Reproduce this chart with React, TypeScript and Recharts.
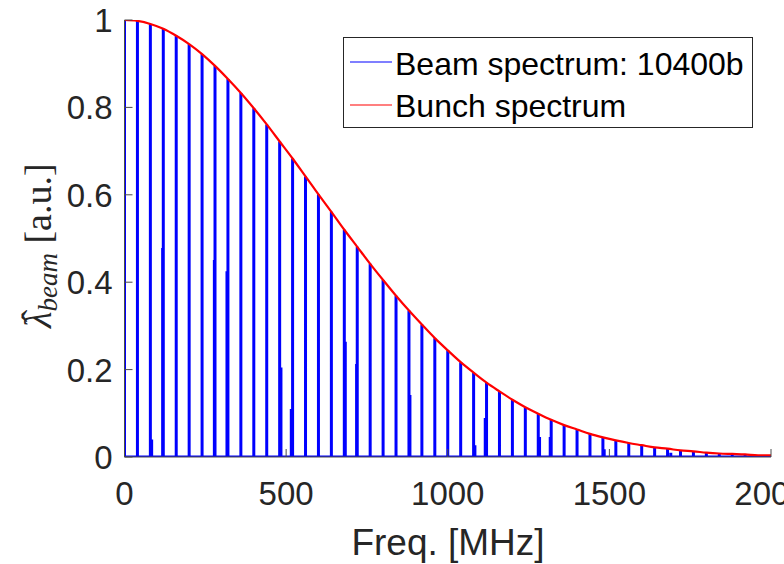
import React from 'react';
import { ComposedChart, Line, XAxis, YAxis, Legend } from 'recharts';

// Harmonic lines of the beam spectrum (every 40 MHz) and their amplitudes
const harmonicFreqs = [
  0, 40, 80, 120, 160, 200, 240, 280, 320, 360, 400, 440, 480, 520, 560, 600, 640, 680, 720, 760,
  800, 840, 880, 920, 960, 1000, 1040, 1080, 1120, 1160, 1200, 1240, 1280, 1320, 1360, 1400, 1440,
  1480, 1520, 1560, 1600, 1640, 1680, 1720, 1760, 1800, 1840, 1880, 1920, 1960, 2000,
];
const harmonicAmps = [
  1.0, 0.998, 0.991, 0.98, 0.964, 0.945, 0.922, 0.895, 0.865, 0.833, 0.798, 0.761, 0.722, 0.683,
  0.642, 0.601, 0.561, 0.52, 0.481, 0.442, 0.405, 0.369, 0.335, 0.303, 0.272, 0.244, 0.217, 0.193,
  0.17, 0.15, 0.131, 0.114, 0.099, 0.085, 0.073, 0.063, 0.053, 0.045, 0.038, 0.032, 0.027, 0.022,
  0.019, 0.015, 0.013, 0.01, 0.008, 0.007, 0.006, 0.004, 0.004,
];

// Small side lines visible next to some harmonics
const sidebandFreqs = [84, 118, 278, 317, 484, 516, 683, 718, 883, 1084, 1116, 1284, 1317, 1484, 1690];
const sidebandAmps = [0.04, 0.478, 0.451, 0.425, 0.205, 0.11, 0.264, 0.213, 0.142, 0.027, 0.089, 0.046, 0.046, 0.018, 0.01];

// Bunch spectrum envelope
const bunchFreqs = harmonicFreqs;
const bunchAmps = harmonicAmps;

const xTicks = [0, 500, 1000, 1500, 2000];
const yTicks = [0, 0.2, 0.4, 0.6, 0.8, 1];

const spikes = harmonicFreqs
  .map((f, i) => ({ f, v: harmonicAmps[i] }))
  .concat(sidebandFreqs.map((f, i) => ({ f, v: sidebandAmps[i] })))
  .sort((a, b) => a.f - b.f);

const beamData: { f: number; v: number }[] = [];
spikes.forEach((s) => {
  beamData.push({ f: s.f, v: 0 });
  beamData.push({ f: s.f, v: s.v });
  beamData.push({ f: s.f, v: 0 });
});
beamData.push({ f: 2000, v: 0 });

const bunchData = bunchFreqs.map((f, i) => ({ f, v: bunchAmps[i] }));

const TXT = '#262626';
const AX = '#4a4a4a';
const SANS = '"Liberation Sans", Arial, Helvetica, sans-serif';
const SERIF = '"Liberation Serif", "DejaVu Serif", serif';

const XTick = (props: any) => {
  const { x, y, payload } = props;
  return (
    <g>
      <line x1={x} x2={x} y1={y} y2={y - 8} stroke={AX} strokeWidth={1} />
      <text x={x} y={y + 48} textAnchor="middle" fontSize={33} fill={TXT} fontFamily={SANS}>
        {payload.value}
      </text>
    </g>
  );
};

const TopTick = (props: any) => {
  const { x, y } = props;
  return <line x1={x} x2={x} y1={y} y2={y + 8} stroke={AX} strokeWidth={1} />;
};

const YTick = (props: any) => {
  const { x, y, payload } = props;
  return (
    <g>
      <line x1={x} x2={x + 8} y1={y} y2={y} stroke={AX} strokeWidth={1} />
      <text x={x - 12} y={y + 12} textAnchor="end" fontSize={33} fill={TXT} fontFamily={SANS}>
        {payload.value}
      </text>
    </g>
  );
};

const RightTick = (props: any) => {
  const { x, y } = props;
  return <line x1={x} x2={x - 8} y1={y} y2={y} stroke={AX} strokeWidth={1} />;
};

const XLabel = () => (
  <text x={448} y={555} textAnchor="middle" fontSize={37} fill={TXT} fontFamily={SANS}>
    Freq. [MHz]
  </text>
);

const YLabel = () => (
  <g transform="translate(51, 240) rotate(-90)">
    <text x={-88} y={0} textAnchor="start" fontSize={38} fill={TXT} fontFamily={SERIF}>
      <tspan fontStyle="italic">{'\u03BB'}</tspan>
      <tspan fontStyle="italic" fontSize={27} dy={6}>beam</tspan>
      <tspan dy={-6}>{' [a.u.]'}</tspan>
    </text>
    <text x={-76} y={-3} textAnchor="middle" fontSize={38} fill={TXT} fontFamily={SERIF}>
      {'\u02C6'}
    </text>
  </g>
);

const LegendBox = (props: any) => {
  const payload = props.payload || [];
  return (
    <div
      style={{
        width: 410,
        height: 91,
        boxSizing: 'border-box',
        border: '1px solid #262626',
        background: '#fff',
      }}
    >
      <svg width={408} height={89} style={{ display: 'block' }}>
        {payload.map((p: any, i: number) => (
          <g key={i}>
            <line x1={6} x2={48} y1={24 + i * 43} y2={24 + i * 43} stroke={p.color} strokeWidth={1.2} />
            <text x={51} y={37 + i * 42} fontSize={32} fill="#000" fontFamily={SANS}>
              {p.value}
            </text>
          </g>
        ))}
      </svg>
    </div>
  );
};

export default function App() {
  return (
    <div style={{ position: 'absolute', left: 0, top: 0, width: 784, height: 564, overflow: 'hidden', background: '#fff' }}>
      <ComposedChart width={784} height={564} margin={{ top: 20, right: 13, bottom: 0, left: 0 }}>
        <XAxis
          xAxisId={0}
          dataKey="f"
          type="number"
          domain={[0, 2000]}
          ticks={xTicks}
          allowDataOverflow
          height={107}
          tickSize={0}
          tickMargin={0}
          tickLine={false}
          axisLine={{ stroke: AX, strokeWidth: 1 }}
          tick={<XTick />}
          interval={0}
          label={<XLabel />}
        />
        <XAxis
          xAxisId="top"
          orientation="top"
          dataKey="f"
          type="number"
          domain={[0, 2000]}
          ticks={xTicks}
          allowDataOverflow
          height={0}
          tickSize={0}
          tickMargin={0}
          tickLine={false}
          axisLine={{ stroke: AX, strokeWidth: 1 }}
          tick={<TopTick />}
          interval={0}
        />
        <YAxis
          yAxisId={0}
          type="number"
          domain={[0, 1]}
          ticks={yTicks}
          allowDataOverflow
          width={124.5}
          tickSize={0}
          tickMargin={0}
          tickLine={false}
          axisLine={{ stroke: AX, strokeWidth: 1 }}
          tick={<YTick />}
          interval={0}
          label={<YLabel />}
        />
        <YAxis
          yAxisId="right"
          orientation="right"
          type="number"
          domain={[0, 1]}
          ticks={yTicks}
          allowDataOverflow
          width={0}
          tickSize={0}
          tickMargin={0}
          tickLine={false}
          axisLine={{ stroke: AX, strokeWidth: 1 }}
          tick={<RightTick />}
          interval={0}
        />
        <Line
          data={beamData}
          dataKey="v"
          name="Beam spectrum: 10400b"
          type="linear"
          stroke="#0000ff"
          strokeWidth={3}
          strokeLinejoin="bevel"
          dot={false}
          activeDot={false}
          isAnimationActive={false}
        />
        <Line
          data={bunchData}
          dataKey="v"
          name="Bunch spectrum"
          type="monotone"
          stroke="#ff0000"
          strokeWidth={2.2}
          dot={false}
          activeDot={false}
          isAnimationActive={false}
        />
        <Legend
          content={<LegendBox />}
          wrapperStyle={{ position: 'absolute', left: 343, top: 37, width: 410, height: 0, overflow: 'visible' }}
        />
      </ComposedChart>
    </div>
  );
}
